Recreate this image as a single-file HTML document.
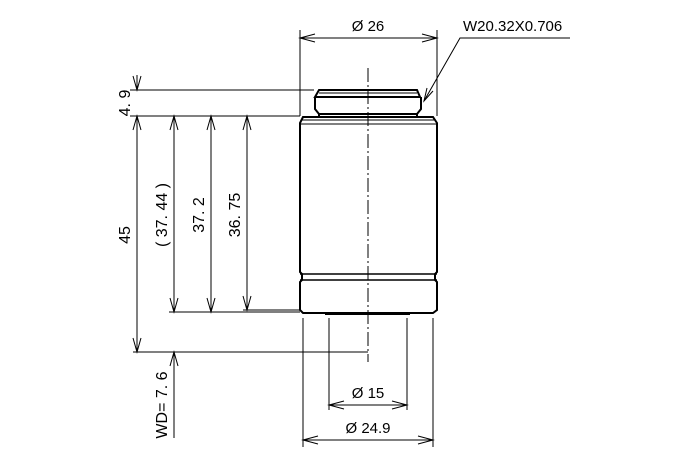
<!DOCTYPE html>
<html><head><style>body{margin:0;background:#fff}svg{display:block}text{font-family:"Liberation Sans",sans-serif;font-size:15px;fill:#000}</style></head><body>
<svg width="680" height="460" viewBox="0 0 680 460" xmlns="http://www.w3.org/2000/svg">
<g stroke="#000" fill="none" stroke-width="1">
<line x1="368" y1="68" x2="368" y2="362" stroke-dasharray="14,3,2,3"/>
<path d="M319 90 H417 L420 97 H315 L319 90 Z M315 97 V109 L319 114 H417 L421 109 V97" stroke-width="2"/>
<line x1="319" y1="93" x2="417" y2="93"/>
<line x1="319" y1="114" x2="319" y2="117" stroke-width="2"/><line x1="417" y1="114" x2="417" y2="117" stroke-width="2"/>
<path d="M303 117 H433 L437 123 V272 L435 274 V280 L437 282 V310 L433 313 H303 L300 310 V282 L302 280 V274 L300 272 V123 Z" stroke-width="2"/>
<line x1="302" y1="120" x2="434" y2="120"/>
<line x1="300" y1="124" x2="437" y2="124"/>
<line x1="300" y1="274" x2="437" y2="274" stroke-width="1.5"/>
<line x1="300" y1="280" x2="437" y2="280" stroke-width="1.5"/>
<line x1="325" y1="314" x2="410" y2="314" stroke-width="2"/>
<line x1="300" y1="30" x2="300" y2="116"/>
<line x1="437" y1="30" x2="437" y2="116"/>
<line x1="130" y1="90" x2="314" y2="90"/>
<line x1="130" y1="116" x2="300" y2="116"/>
<line x1="169" y1="312" x2="300" y2="312"/>
<line x1="243" y1="310" x2="300" y2="310"/>
<line x1="133" y1="352" x2="368" y2="352"/>
<line x1="303" y1="318" x2="303" y2="447"/>
<line x1="433" y1="318" x2="433" y2="447"/>
<line x1="329" y1="318" x2="329" y2="410"/>
<line x1="407" y1="318" x2="407" y2="410"/>
<line x1="300" y1="38" x2="437" y2="38"/>
<path d="M315 34 L300 38 L315 42 M422 34 L437 38 L422 42"/>
<line x1="329" y1="405" x2="407" y2="405"/>
<path d="M344 401 L329 405 L344 409 M392 401 L407 405 L392 409"/>
<line x1="303" y1="440" x2="433" y2="440"/>
<path d="M318 436 L303 440 L318 444 M418 436 L433 440 L418 444"/>
<polyline points="570,38 460,38 424,101"/>
<path d="M427 88 L424 101 L433 91"/>
<line x1="137" y1="75" x2="137" y2="90"/>
<path d="M133 76 L137 90 L141 76"/>
<line x1="137" y1="116" x2="137" y2="352"/>
<path d="M133 130 L137 116 L141 130 M133 338 L137 352 L141 338"/>
<line x1="174" y1="116" x2="174" y2="312"/>
<path d="M170 130 L174 116 L178 130 M170 298 L174 312 L178 298"/>
<line x1="211" y1="116" x2="211" y2="312"/>
<path d="M207 130 L211 116 L215 130 M207 298 L211 312 L215 298"/>
<line x1="247" y1="116" x2="247" y2="310"/>
<path d="M243 130 L247 116 L251 130 M243 296 L247 310 L251 296"/>
<line x1="174" y1="352" x2="174" y2="438"/>
<path d="M170 366 L174 352 L178 366"/>
</g>
<text x="368" y="31" text-anchor="middle">Ø 26</text>
<text x="463" y="31">W20.32X0.706</text>
<text x="368" y="398" text-anchor="middle">Ø 15</text>
<text x="368" y="433" text-anchor="middle">Ø 24.9</text>
<text transform="translate(130,103) rotate(-90)" text-anchor="middle" style="font-size:16px">4. 9</text>
<text transform="translate(130,235) rotate(-90)" text-anchor="middle" style="font-size:16px">45</text>
<text transform="translate(167,215) rotate(-90)" text-anchor="middle" style="font-size:16px">( 37. 44 )</text>
<text transform="translate(204,215) rotate(-90)" text-anchor="middle" style="font-size:16px">37. 2</text>
<text transform="translate(240,215) rotate(-90)" text-anchor="middle" style="font-size:16px">36. 75</text>
<text transform="translate(167,405) rotate(-90)" text-anchor="middle" style="font-size:16px">WD= 7. 6</text>
</svg>
</body></html>
